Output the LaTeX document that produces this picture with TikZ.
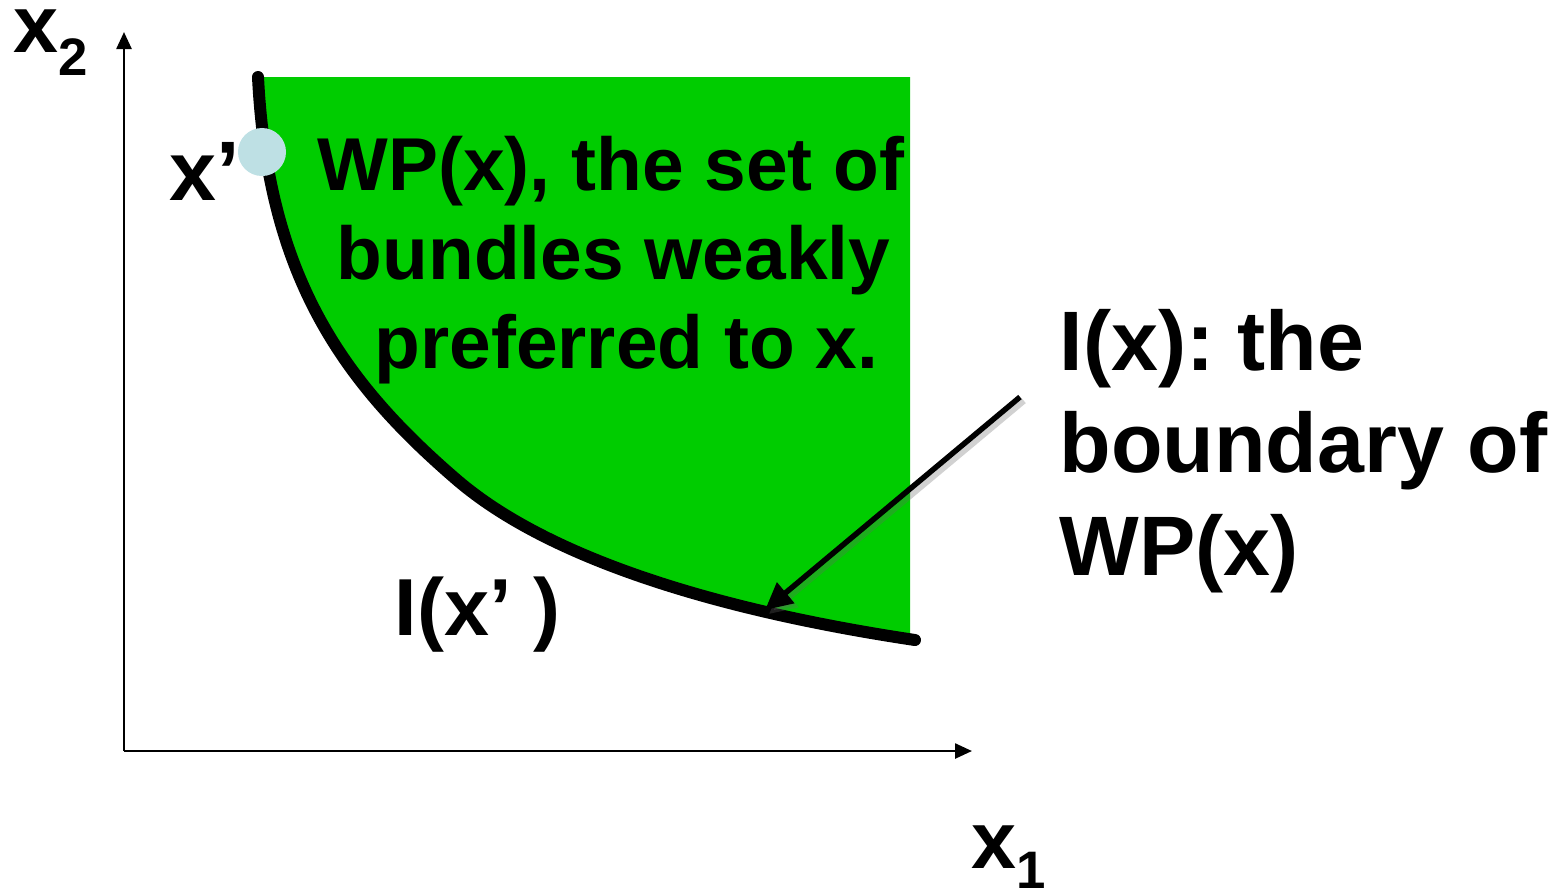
\documentclass[tikz,border=0pt]{standalone}
\usepackage{fontspec}
\setmainfont{Liberation Sans}
\usetikzlibrary{arrows.meta}
\definecolor{wpgreen}{RGB}{0,204,0}
\definecolor{ptblue}{RGB}{190,224,228}
\tikzset{
  lbl/.style={inner sep=0pt, anchor=base west, font=\bfseries},
  axis/.style={line width=0.025cm, -{Triangle[length=0.17cm,width=0.15cm]}},
  curve/.style={line width=0.12cm, line cap=round},
  pointer/.style={line width=0.055cm, -{Triangle[length=0.27cm,width=0.26cm]}},
}
\frenchspacing
\begin{document}
\begin{tikzpicture}[x=0.01cm,y=-0.01cm]
\useasboundingbox (0,0) rectangle (1564,890);
\coordinate (ctop) at (258,77);
\coordinate (cmid) at (457,480);
\coordinate (cend) at (915,640);
% green region
\begin{scope}
  \clip (0,77) rectangle (910,890);
  \fill[wpgreen] (ctop) .. controls (268,277) and (343,382) .. (cmid)
     .. controls (548,558) and (715,610) .. (cend) -- (915,77) -- cycle;
\end{scope}
% axes
\coordinate (O) at (124,751);
\coordinate (ytop) at (124,32);
\coordinate (xend) at (972,751);
\draw[axis] (O) -- (ytop);
\draw[axis] (O) -- (xend);
% indifference curve
\draw[curve] (ctop) .. controls (268,277) and (343,382) .. (cmid)
     .. controls (548,558) and (715,610) .. (cend);
% point x'
\node[circle, fill=ptblue, minimum size=0.48cm, inner sep=0pt] (xp) at (262,152) {};
% labels
\node[lbl, font=\bfseries\fontsize{23}{23}\selectfont] (x2) at (13,52) {x\raisebox{-0.23cm}{\fontsize{15}{15}\selectfont 2}};
\node[lbl, font=\bfseries\fontsize{23}{23}\selectfont] (x1) at (971,868) {x\raisebox{-0.2cm}{\fontsize{15}{15}\selectfont 1}};
\node[lbl, font=\bfseries\fontsize{24}{24}\selectfont] (xplbl) at (169,200) {x’};
\node[lbl, font=\bfseries\fontsize{23}{23}\selectfont] (ixp) at (394,635) {I(x’ )};
% WP text
\node[lbl, font=\bfseries\fontsize{21.3}{25}\selectfont] (wp1) at (317,190) {WP(x), the set of};
\node[lbl, font=\bfseries\fontsize{21.3}{25}\selectfont] (wp2) at (336,279) {bundles weakly};
\node[lbl, font=\bfseries\fontsize{21.3}{25}\selectfont] (wp3) at (374,368) {preferred to x.};
% I(x) text
\node[lbl, font=\bfseries\fontsize{24}{28}\selectfont] (ix1) at (1059,370) {I(x): the};
\node[lbl, font=\bfseries\fontsize{24}{28}\selectfont] (ix2) at (1059,472) {boundary of};
\node[lbl, font=\bfseries\fontsize{24}{28}\selectfont] (ix3) at (1059,575) {WP(x)};
% pointer arrow
\coordinate (ptail) at (1020,397);
\coordinate (ptip) at (765,610);
\coordinate (stail) at (1024,401);
\coordinate (stip) at (769,614);
\draw[pointer, black!60, opacity=0.3] (stail) -- (stip);
\draw[pointer] (ptail) -- (ptip);
\end{tikzpicture}
\end{document}
